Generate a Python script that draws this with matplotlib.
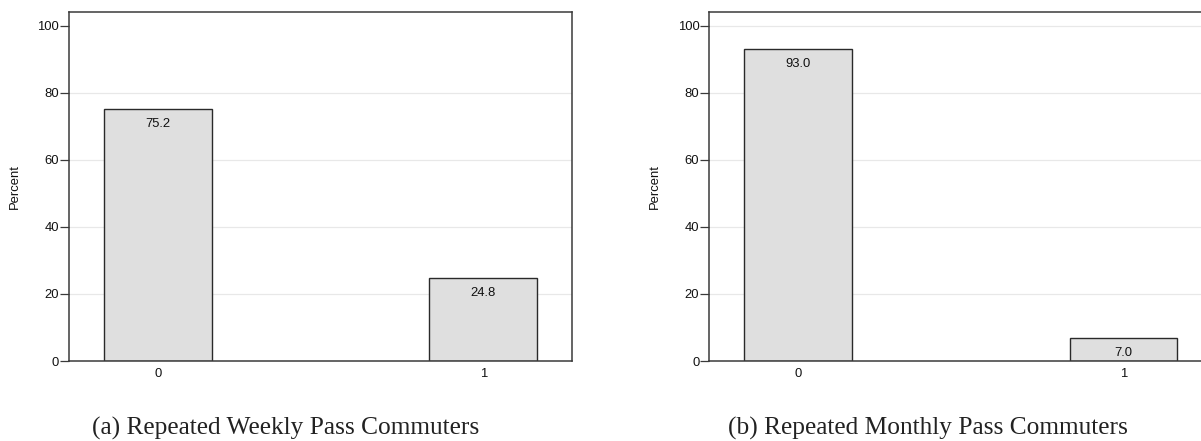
import matplotlib
matplotlib.use("Agg")
import matplotlib.pyplot as plt

# Share of commuters by repeated-pass indicator (0 = no, 1 = yes)
categories = ["0", "1"]
weekly_pct = [75.2, 24.8]
monthly_pct = [93.0, 7.0]
y_ticks = [0, 20, 40, 60, 80, 100]
captions = ["(a) Repeated Weekly Pass Commuters",
            "(b) Repeated Monthly Pass Commuters"]

W, H = 1201, 441
fig = plt.figure(figsize=(W / 100, H / 100), dpi=100)
fig.patch.set_facecolor("white")

sans = ["Liberation Sans", "DejaVu Sans"]
serif = ["Liberation Serif", "DejaVu Serif"]

spine_col = "#3a3a3a"
bar_fill = "#dfdfdf"
bar_edge = "#2a2a2a"
grid_col = "#e8e8e8"
fs = 9.4

ax_w = 503.6 / W
ax_h = 348.7 / H
ax_b = (H - 361) / H
lefts = [68.7 / W, 709 / W]
grid_levels = [[20, 40, 60, 80], [20, 40, 60, 80, 100]]


def draw_panel(ax, values, grids):
    xs = list(range(len(categories)))
    for g in grids:
        ax.axhline(g, color=grid_col, lw=0.9, zorder=0)
    bars = ax.bar(xs, values, width=0.33, color=bar_fill,
                  edgecolor=bar_edge, linewidth=1.0, zorder=2)
    for b, v in zip(bars, values):
        ax.annotate(f"{v:.1f}", (b.get_x() + b.get_width() / 2, v),
                    xytext=(0, -6.5), textcoords="offset points",
                    ha="center", va="top", fontsize=fs,
                    family=sans, color="#111111", zorder=3)
    ax.set_xlim(-0.274, 1.274)
    ax.set_ylim(0, 104)
    ax.set_xticks(xs)
    ax.set_xticklabels(categories, family=sans, fontsize=fs)
    ax.set_yticks(y_ticks)
    ax.set_yticklabels([str(t) for t in y_ticks], family=sans, fontsize=fs)
    ax.tick_params(axis="x", length=0, pad=5, colors="#111111")
    ax.tick_params(axis="y", length=6.2, width=0.9, pad=0.8,
                   colors="#111111", color=spine_col)
    for s in ax.spines.values():
        s.set_color(spine_col)
        s.set_linewidth(1.1)
    ax.set_ylabel("Percent", family=sans, fontsize=fs, labelpad=12,
                  color="#111111")


for left, vals, grids in zip(lefts, [weekly_pct, monthly_pct], grid_levels):
    ax = fig.add_axes([left, ax_b, ax_w, ax_h])
    draw_panel(ax, vals, grids)

caption_x = [286 / W, 928 / W]
for cx, cap in zip(caption_x, captions):
    fig.text(cx, (H - 435) / H, cap, ha="center", va="baseline",
             family=serif, fontsize=18.3, color="#222222")

fig.savefig("out.png", dpi=100, facecolor="white")
